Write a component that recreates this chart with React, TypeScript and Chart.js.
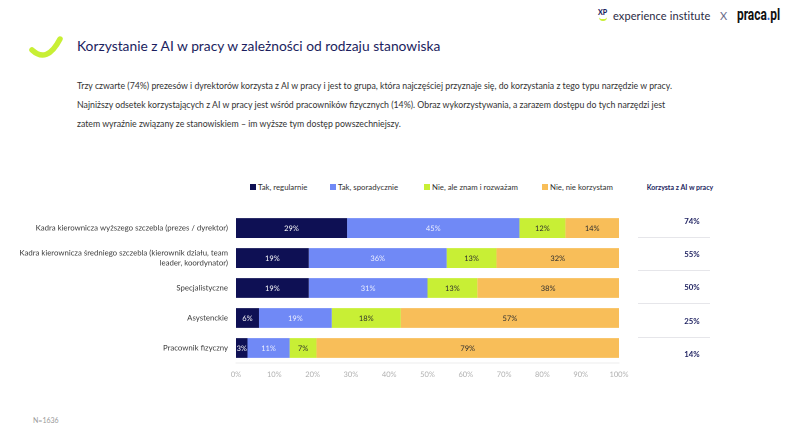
import React, { useEffect, useRef } from "react";
import { Chart, registerables } from "chart.js";

Chart.register(...registerables);

const categories: (string | string[])[] = [
  "Kadra kierownicza wyższego szczebla (prezes / dyrektor)",
  ["Kadra kierownicza średniego szczebla (kierownik działu, team", "leader, koordynator)"],
  "Specjalistyczne",
  "Asystenckie",
  "Pracownik fizyczny",
];
const seriesNames = ["Tak, regularnie", "Tak, sporadycznie", "Nie, ale znam i rozważam", "Nie, nie korzystam"];
const regularly = [29, 19, 19, 6, 3];
const sporadically = [45, 36, 31, 19, 11];
const considering = [12, 13, 13, 18, 7];
const notUsing = [14, 32, 38, 57, 79];
const usesAI = [74, 55, 50, 25, 14];
const xTicks = [0, 10, 20, 30, 40, 50, 60, 70, 80, 90, 100];

const colors = ["#0e1054", "#7089f6", "#c8ef35", "#f8be59"];
const labelColors = ["#ffffff", "#eef1ff", "#2e2e2e", "#2e2e2e"];

const FONT = "Lato, 'Open Sans', sans-serif";

const barLabels = {
  id: "barLabels",
  afterDatasetsDraw(chart: any) {
    const ctx = chart.ctx;
    ctx.save();
    ctx.font = `7.5px ${FONT}`;
    ctx.textAlign = "center";
    ctx.textBaseline = "middle";
    chart.data.datasets.forEach((ds: any, di: number) => {
      const meta = chart.getDatasetMeta(di);
      meta.data.forEach((bar: any, i: number) => {
        const v = ds.data[i];
        const left = Math.min(bar.base, bar.x);
        const right = Math.min(Math.max(bar.base, bar.x), chart.chartArea.right);
        ctx.fillStyle = labelColors[di];
        ctx.fillText(v + "%", (left + right) / 2, bar.y + 0.5);
      });
    });
    ctx.restore();
  },
};

function BarChart() {
  const ref = useRef<HTMLCanvasElement>(null);
  useEffect(() => {
    const series = [regularly, sporadically, considering, notUsing];
    const chart = new Chart(ref.current!, {
      type: "bar",
      data: {
        labels: categories as any,
        datasets: series.map((d, i) => ({
          label: seriesNames[i],
          data: d,
          backgroundColor: colors[i],
          borderWidth: 0,
          barPercentage: 1,
          categoryPercentage: 0.66,
        })),
      },
      options: {
        indexAxis: "y",
        animation: false,
        responsive: false,
        devicePixelRatio: 2,
        layout: { padding: { top: 12, right: 21, left: 0, bottom: 0 } },
        plugins: { legend: { display: false }, tooltip: { enabled: false } },
        scales: {
          x: {
            stacked: true,
            min: 0,
            max: 100,
            afterBuildTicks: (s: any) => {
              s.ticks = xTicks.map((v) => ({ value: v }));
            },
            afterFit: (s: any) => {
              s.height = 20;
            },
            grid: { display: false, drawTicks: false },
            border: { display: true, color: "#ececec" },
            ticks: {
              padding: 7,
              color: "#b0b0b0",
              font: { family: FONT, size: 7.5 },
              callback: (v: any) => v + "%",
            },
          },
          y: {
            stacked: true,
            afterFit: (s: any) => {
              s.width = 236;
            },
            grid: { display: false, drawTicks: false },
            border: { display: false },
            ticks: {
              padding: 8,
              color: "#3a3a3a",
              font: { family: FONT, size: 7.8, lineHeight: 1.3 },
            },
          },
        },
      },
      plugins: [barLabels],
    });
    return () => chart.destroy();
  }, []);
  return (
    <canvas
      ref={ref}
      width={640}
      height={183}
      style={{ position: "absolute", left: 0, top: 200, width: 640, height: 183 }}
    />
  );
}

export default function App() {
  const legendPos = [250, 330, 424, 542];
  const valueY = [221, 254, 287, 321, 354];
  const lineY = [237, 270, 303, 337];
  return (
    <div
      style={{
        position: "absolute",
        left: 0,
        top: 0,
        width: 800,
        height: 433,
        background: "#fff",
        fontFamily: FONT,
        overflow: "hidden",
      }}
    >
      {/* logos */}
      <div style={{ position: "absolute", left: 598, top: 8, fontSize: 7, fontWeight: 900, color: "#1b1e5e", lineHeight: "8px" }}>
        XP
        <div style={{ width: 8, height: 3, borderBottom: "2px solid #c8ef35", borderRadius: "0 0 6px 6px", marginLeft: 1 }} />
      </div>
      <div style={{ position: "absolute", left: 613, top: 9, fontSize: 11, color: "#2a2a44", lineHeight: "14px", letterSpacing: 0.1 }}>
        experience institute
      </div>
      <div style={{ position: "absolute", left: 720, top: 9, fontSize: 11, color: "#6b6b8a", lineHeight: "14px" }}>X</div>
      <div
        style={{
          position: "absolute",
          left: 737,
          top: 4,
          fontSize: 17,
          fontWeight: 700,
          color: "#111",
          lineHeight: "20px",
          fontFamily: "Roboto, sans-serif",
          transform: "scaleX(0.7)",
          transformOrigin: "left top",
          whiteSpace: "nowrap",
        }}
      >
        praca<span style={{ color: "#3b6fd8" }}>.</span>pl
      </div>

      {/* swoosh */}
      <svg style={{ position: "absolute", left: 0, top: 0 }} width={100} height={80}>
        <path d="M32 50 Q 47 64 60 39" stroke="#c8ef35" strokeWidth={5.5} fill="none" strokeLinecap="round" />
      </svg>

      {/* title */}
      <div style={{ position: "absolute", left: 77, top: 37, fontSize: 13.8, color: "#1b1e5e", lineHeight: "18px" }}>
        Korzystanie z AI w pracy w zależności od rodzaju stanowiska
      </div>

      {/* paragraph */}
      <div style={{ position: "absolute", left: 77, top: 76, fontSize: 8.75, color: "#333", lineHeight: "19px", whiteSpace: "nowrap" }}>
        Trzy czwarte (74%) prezesów i dyrektorów korzysta z AI w pracy i jest to grupa, która najczęściej przyznaje się, do korzystania z tego typu narzędzie w pracy.
        <br />
        Najniższy odsetek korzystających z AI w pracy jest wśród pracowników fizycznych (14%). Obraz wykorzystywania, a zarazem dostępu do tych narzędzi jest
        <br />
        zatem wyraźnie związany ze stanowiskiem – im wyższe tym dostęp powszechniejszy.
      </div>

      {/* legend */}
      {seriesNames.map((n, i) => (
        <div
          key={n}
          style={{
            position: "absolute",
            left: legendPos[i],
            top: 181,
            fontSize: 7.8,
            color: "#333",
            lineHeight: "12px",
            whiteSpace: "nowrap",
            display: "flex",
            alignItems: "center",
          }}
        >
          <span style={{ display: "inline-block", width: 6, height: 6, background: colors[i], marginRight: 2 }} />
          {n}
        </div>
      ))}

      <BarChart />

      {/* right column */}
      <div
        style={{
          position: "absolute",
          left: 630,
          width: 100,
          top: 181,
          textAlign: "center",
          fontSize: 7,
          fontWeight: 700,
          color: "#1b1e5e",
          lineHeight: "12px",
        }}
      >
        Korzysta z AI w pracy
      </div>
      {usesAI.map((v, i) => (
        <div
          key={i}
          style={{
            position: "absolute",
            left: 672,
            width: 40,
            top: valueY[i] - 6,
            textAlign: "center",
            fontSize: 7.8,
            fontWeight: 700,
            color: "#1b1e5e",
            lineHeight: "12px",
          }}
        >
          {v}%
        </div>
      ))}
      {lineY.map((y, i) => (
        <div key={i} style={{ position: "absolute", left: 638, top: y, width: 72, height: 1, background: "#e6e6ea" }} />
      ))}

      <div style={{ position: "absolute", left: 33, top: 415, fontSize: 7, color: "#9a9a9a", lineHeight: "10px" }}>N=1636</div>
    </div>
  );
}
